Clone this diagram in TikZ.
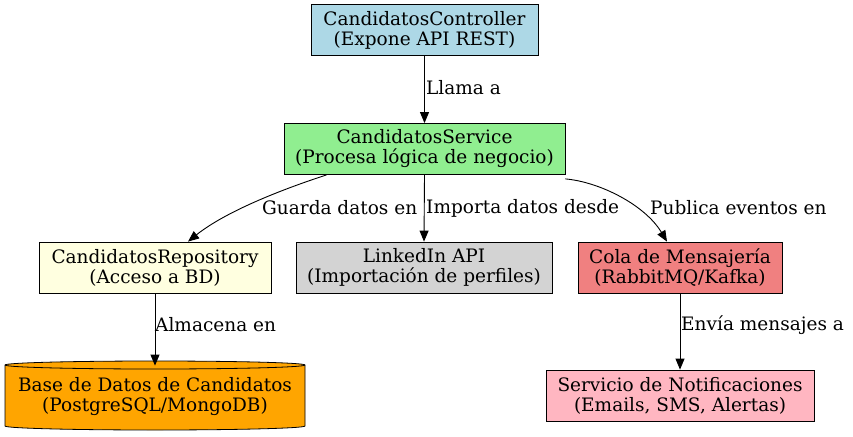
\documentclass[tikz,border=0pt]{standalone}
\usepackage{fontspec}
\setmainfont{DejaVu Serif}
\usetikzlibrary{arrows.meta}
\definecolor{cLB}{HTML}{ADD8E6}
\definecolor{cLG}{HTML}{90EE90}
\definecolor{cLY}{HTML}{FFFFE0}
\definecolor{cGR}{HTML}{D3D3D3}
\definecolor{cLC}{HTML}{F08080}
\definecolor{cLP}{HTML}{FFB6C1}
\definecolor{cOR}{HTML}{FFA500}
\tikzset{
  x=1pt,y=-1pt,
  box/.style={draw=black,line width=0.8pt,rectangle,inner sep=0pt,align=center,
    font=\fontsize{18.5}{20}\selectfont,minimum height=51pt},
  edge/.style={draw=black,line width=0.9pt,-{Triangle[length=11pt,width=9pt]}},
  elab/.style={font=\fontsize{18.5}{20}\selectfont,inner sep=0pt,anchor=west}
}
\begin{document}
\begin{tikzpicture}
\useasboundingbox (0,0) rectangle (853,436);
\node[box,fill=cLB,minimum width=227pt] (ctrl) at (424.5,30) {CandidatosController\\(Expone API REST)};
\node[box,fill=cLG,minimum width=281pt] (svc) at (424.5,149) {CandidatosService\\(Procesa lógica de negocio)};
\node[box,fill=cLY,minimum width=232pt] (repo) at (155,267.5) {CandidatosRepository\\(Acceso a BD)};
\node[box,fill=cGR,minimum width=256pt] (lnk) at (424,267.5) {LinkedIn API\\(Importación de perfiles)};
\node[box,fill=cLC,minimum width=204pt] (cola) at (680,267.5) {Cola de Mensajería\\(RabbitMQ/Kafka)};
\node[box,fill=cLP,minimum width=268pt] (notif) at (680,395.5) {Servicio de Notificaciones\\(Emails, SMS, Alertas)};
% cylinder
\fill[cOR,draw=black,line width=0.8pt] (5,365) -- (5,426) arc[start angle=180,end angle=360,x radius=150,y radius=-4] -- (305,365) arc[start angle=0,end angle=180,x radius=150,y radius=-4] -- cycle;
\draw[line width=0.8pt] (5,365) arc[start angle=180,end angle=360,x radius=150,y radius=-4];
\node[box,draw=none,minimum width=300pt,minimum height=62pt] (db) at (155,397) {Base de Datos de Candidatos\\(PostgreSQL/MongoDB)};
% edges
\draw[edge] (ctrl.south) -- (svc.north);
\draw[edge] ([xshift=43pt]svc.south west) .. controls (280,190) and (225,212) .. ([xshift=33pt]repo.north);
\draw[edge] (svc.south) -- (lnk.north);
\draw[edge] ([yshift=-4pt]svc.south east) .. controls (600,182) and (645,205) .. ([xshift=-13pt]cola.north);
\draw[edge] (repo.south) -- (db.north);
\draw[edge] (cola.south) -- (notif.north);
% labels
\node[elab] (l1) at (426,88) {Llama a};
\node[elab] (l2) at (262,208) {Guarda datos en};
\node[elab] (l3) at (426,208) {Importa datos desde};
\node[elab] (l4) at (650,208) {Publica eventos en};
\node[elab] (l5) at (155,325) {Almacena en};
\node[elab] (l6) at (681,325) {Envía mensajes a};
\end{tikzpicture}
\end{document}
